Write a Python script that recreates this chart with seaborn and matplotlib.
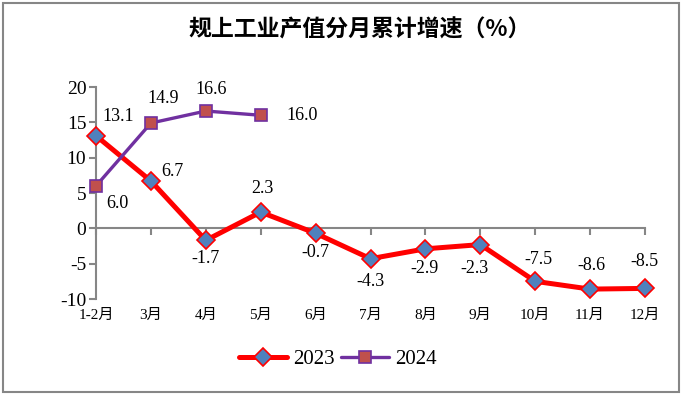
"""
规上工业产值分月累计增速
"""
import pandas as pd
import matplotlib
matplotlib.use("Agg")
import matplotlib.pyplot as plt
import seaborn as sns

months = ['1-2月', '3月', '4月', '5月', '6月', '7月', '8月', '9月', '10月', '11月', '12月']
growth_2023 = [13.1, 6.7, -1.7, 2.3, -0.7, -4.3, -2.9, -2.3, -7.5, -8.6, -8.5]
growth_2024 = [6.0, 14.9, 16.6, 16.0]

# décalages des étiquettes (pixels)
offsets_2023 = [(22, 19), (21, 9), (0, -18), (2, 24), (0, -19), (0, -23),
                (-1, -20), (-6, -24), (3, 22), (1, 24), (-1, 27)]
offsets_2024 = [(21, -18), (12, 25), (5, 22), (41, 0)]

sns.set_style('white')
plt.rcParams['font.family'] = ['Liberation Serif', 'Noto Sans CJK SC']
plt.rcParams['axes.unicode_minus'] = False
plt.rcParams['text.color'] = 'black'
plt.rcParams['xtick.color'] = 'black'
plt.rcParams['ytick.color'] = 'black'

fig = plt.figure(figsize=(6.82, 3.96), dpi=100)
ax = fig.add_axes([96 / 682, 1 - 299 / 396, (645 - 96) / 682, (299 - 87) / 396])

df23 = pd.DataFrame({'x': range(len(growth_2023)), 'y': growth_2023})
df24 = pd.DataFrame({'x': range(len(growth_2024)), 'y': growth_2024})

sns.lineplot(data=df23, x='x', y='y', ax=ax, color='#FF0000', lw=3.6,
             marker='D', markersize=9, markerfacecolor='#4F81BD',
             markeredgecolor='#FF0000', markeredgewidth=1.2, label='2023', zorder=3,
             clip_on=False)
sns.lineplot(data=df24, x='x', y='y', ax=ax, color='#7030A0', lw=2.4,
             marker='s', markersize=8, markerfacecolor='#C0504D',
             markeredgecolor='#7030A0', markeredgewidth=1.2, label='2024', zorder=4,
             clip_on=False)

for i, v in enumerate(growth_2023):
    ax.annotate(f'{v:.1f}', (i, v), xytext=offsets_2023[i], textcoords='offset pixels',
                ha='center', va='center', fontsize=13)
for i, v in enumerate(growth_2024):
    ax.annotate(f'{v:.1f}', (i, v), xytext=offsets_2024[i], textcoords='offset pixels',
                ha='center', va='center', fontsize=13)

ax.set_xlim(0, len(months) - 1)
ax.set_ylim(-10, 20)
ax.set_yticks(range(-10, 21, 5))
ax.set_xticks(range(len(months)))
ax.set_xticklabels([])
ax.set_xlabel('')
ax.set_ylabel('')

for s in ['top', 'right']:
    ax.spines[s].set_visible(False)
ax.spines['bottom'].set_position(('data', 0))
for s in ['left', 'bottom']:
    ax.spines[s].set_color('#868686')
    ax.spines[s].set_linewidth(1.5)
ax.tick_params(axis='y', direction='out', length=5, width=1.5, color='#868686',
               labelsize=14, pad=2, left=True, labelcolor='black')
ax.tick_params(axis='x', direction='out', length=5, width=1.5, color='#868686', bottom=True)

sec = ax.secondary_xaxis(0.0)
sec.set_xticks(range(len(months)), labels=months)
sec.tick_params(length=0, labelsize=11, pad=7, labelcolor='black')
sec.spines['bottom'].set_visible(False)

ax.legend(loc='center', bbox_to_anchor=(0.496, 0.093), bbox_transform=fig.transFigure,
          ncol=2, frameon=False, fontsize=15, handlelength=2.3, columnspacing=0.3,
          handletextpad=0.3)

fig.text(0.528, 0.925, '规上工业产值分月累计增速（%）', ha='center', va='center',
         fontsize=16.5, fontweight='bold', family=['Noto Sans CJK SC'])

fig.patches.append(plt.Rectangle((0.004, 0.01), 0.991, 0.982, transform=fig.transFigure,
                                 fill=False, ec='#868686', lw=1.5))

fig.savefig('out.png', dpi=100)
plt.close(fig)
